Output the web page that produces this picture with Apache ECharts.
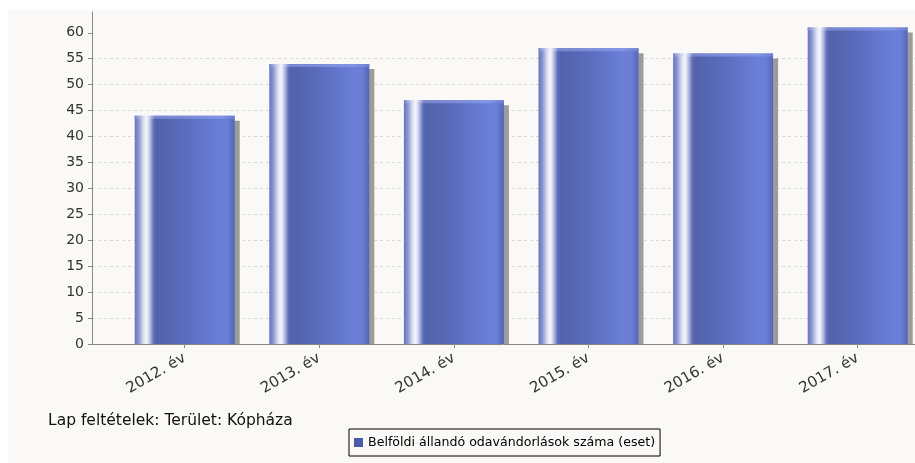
<!DOCTYPE html>
<html><head><meta charset="utf-8">
<script src="https://cdn.jsdelivr.net/npm/echarts@6/dist/echarts.min.js"></script>
<style>
html,body{margin:0;padding:0;background:#fff;width:915px;height:463px;overflow:hidden;position:relative}
#bg{position:absolute;left:8px;top:10px;width:907px;height:453px;background:#faf9f7}
#c{position:absolute;left:0;top:0;width:935px;height:463px}
</style></head>
<body><div id="bg"></div><div id="c"></div>
<script>
const categories = ['2012. év', '2013. év', '2014. év', '2015. év', '2016. év', '2017. év'];
const values = [44, 54, 47, 57, 56, 61];
const yTicks = [0, 5, 10, 15, 20, 25, 30, 35, 40, 45, 50, 55, 60];
const seriesName = 'Belföldi állandó odavándorlások száma (eset)';
const conditionText = 'Lap feltételek: Terület: Kópháza';

const FONT = 'DejaVu Sans';
const chart = echarts.init(document.getElementById('c'), null, {renderer: 'canvas'});

const barGradient = new echarts.graphic.LinearGradient(0, 0, 1, 0, [
  {offset: 0, color: '#6474c0'},
  {offset: 0.04, color: '#8a96d0'},
  {offset: 0.09, color: '#e0e4f4'},
  {offset: 0.12, color: '#f6f6fb'},
  {offset: 0.15, color: '#c0c6e6'},
  {offset: 0.19, color: '#6070b8'},
  {offset: 0.22, color: '#5262aa'},
  {offset: 0.5, color: '#5a6cbc'},
  {offset: 0.85, color: '#6a7fd8'},
  {offset: 0.93, color: '#6a7ed6'},
  {offset: 1, color: '#5565b4'}
]);
const topGradient = new echarts.graphic.LinearGradient(0, 0, 1, 0, [
  {offset: 0, color: '#7888d0'},
  {offset: 0.12, color: '#f6f6fb'},
  {offset: 0.2, color: '#7c8ad0'},
  {offset: 0.85, color: '#8496e8'},
  {offset: 1, color: '#7080d0'}
]);

const option = {
  animation: false,
  grid: [
    {left: 117.4, width: 807.6, top: 12, bottom: 119},
    {left: 92, width: 823, top: 12, bottom: 119}
  ],
  xAxis: [
    {
      type: 'category', gridIndex: 0, data: categories,
      axisLine: {show: false},
      axisTick: {show: true, alignWithLabel: true, length: 4, lineStyle: {color: '#888'}},
      axisLabel: {rotate: 30, margin: 13, fontFamily: FONT, fontSize: 15, color: '#333'},
      splitLine: {show: false}
    },
    {
      type: 'value', gridIndex: 1, min: 0, max: 1,
      axisLine: {show: true, lineStyle: {color: '#888'}},
      axisTick: {show: false}, axisLabel: {show: false}, splitLine: {show: false}
    }
  ],
  yAxis: [
    {type: 'value', gridIndex: 0, min: 0, max: 64, show: false, splitLine: {show: false}},
    {
      type: 'value', gridIndex: 1, min: 0, max: 64, interval: 5,
      axisLine: {show: true, lineStyle: {color: '#888'}},
      axisTick: {show: true, length: 4, lineStyle: {color: '#888'}, customValues: yTicks},
      axisLabel: {customValues: yTicks, margin: 8, fontFamily: FONT, fontSize: 14, color: '#333'},
      splitLine: {show: true, showMinLine: false, showMaxLine: false,
        lineStyle: {color: '#d8d8d8', type: [3, 3], width: 1}}
    }
  ],
  legend: {
    left: 349, top: 429, orient: 'horizontal',
    padding: [7, 5, 7, 5],
    borderColor: '#000', borderWidth: 1,
    itemWidth: 9, itemHeight: 9,
    textStyle: {fontFamily: FONT, fontSize: 12.6, color: '#000'},
    data: [{name: seriesName, icon: 'rect', itemStyle: {color: '#4a5aaa'}}]
  },
  graphic: [{
    type: 'text', left: 48, top: 413,
    style: {text: conditionText, font: '15.5px "DejaVu Sans"', fill: '#111'}
  }],
  series: [{
    type: 'custom', name: seriesName, xAxisIndex: 0, yAxisIndex: 0,
    itemStyle: {color: '#4a5aaa'},
    encode: {x: 0, y: 1},
    data: categories.map((c, i) => [i, values[i]]),
    renderItem: function (params, api) {
      const top = api.coord([api.value(0), api.value(1)]);
      const base = api.coord([api.value(0), 0]);
      const w = api.size([1, 0])[0] * 0.743;
      const x = top[0] - w / 2;
      const h = base[1] - top[1];
      return {
        type: 'group',
        children: [
          {type: 'rect', shape: {x: x + 5, y: top[1] + 5, width: w, height: h - 5}, style: {fill: '#9c9c9c'}},
          {type: 'rect', shape: {x: x, y: top[1], width: w, height: h}, style: {fill: barGradient}},
          {type: 'rect', shape: {x: x, y: top[1], width: w, height: 3}, style: {fill: topGradient, opacity: 0.9}}
        ]
      };
    }
  }]
};
chart.setOption(option);
</script>
</body></html>
